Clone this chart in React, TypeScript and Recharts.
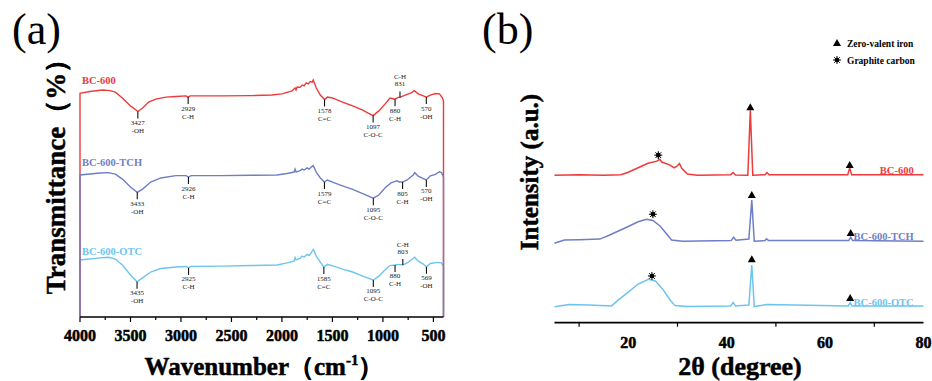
import { LineChart, Line, XAxis, YAxis, ReferenceDot } from "recharts";

const RED = "#ee3a3a";
const BLUE = "#6f7ec6";
const SKY = "#6cc4ef";
const SERIF = '"Liberation Serif", "Times New Roman", "DejaVu Serif", serif';

// (a) FTIR, [wavenumber cm-1, transmittance a.u.] - edges run down to the frame bottom like the original
const ftirBC600: [number, number][] = [
  [4000, 0], [4000, 76.1], [3900, 76.7], [3780, 77.2], [3700, 77.0], [3650, 76.5], [3580, 74.5], [3500, 71.8],
  [3427, 69.9], [3380, 71.1], [3320, 73.1], [3250, 74.1], [3150, 74.8], [3050, 75.0], [2950, 75.2], [2929, 74.8],
  [2910, 75.2], [2600, 75.2], [2300, 75.3], [2100, 75.5], [2000, 75.9], [1900, 76.9], [1870, 77.9], [1860, 77.2],
  [1850, 78.2], [1820, 78.1], [1800, 78.9], [1780, 78.6], [1760, 79.6], [1740, 79.3], [1720, 80.1], [1700, 79.9],
  [1690, 80.6], [1660, 77.9], [1620, 75.5], [1578, 74.0], [1550, 74.8], [1500, 74.5], [1400, 73.1], [1300, 71.8],
  [1200, 70.4], [1150, 69.4], [1097, 68.5], [1040, 70.1], [980, 72.4], [930, 74.5], [880, 74.1], [850, 74.7],
  [831, 74.7], [780, 75.5], [720, 76.2], [690, 77.0], [650, 75.9], [600, 75.2], [570, 74.8], [530, 75.5],
  [480, 76.0], [440, 75.9], [410, 74.5], [400, 73.5], [400, 0],
];
const ftirTCH: [number, number][] = [
  [4000, 0], [4000, 48.3], [3800, 49.0], [3720, 49.1], [3650, 48.6], [3580, 46.9], [3500, 44.2], [3433, 42.4],
  [3380, 43.5], [3300, 45.9], [3200, 47.3], [3050, 48.1], [2950, 48.1], [2926, 47.6], [2900, 48.1], [2600, 48.1],
  [2300, 48.2], [2050, 48.3], [1950, 48.8], [1880, 49.3], [1870, 50.3], [1860, 49.3], [1820, 49.8], [1800, 50.3],
  [1780, 50.0], [1750, 50.7], [1730, 50.3], [1710, 51.0], [1690, 51.5], [1660, 49.3], [1620, 47.3], [1579, 45.9],
  [1550, 46.6], [1480, 45.6], [1400, 44.6], [1300, 43.4], [1200, 42.0], [1095, 40.4], [1040, 41.5], [980, 43.9],
  [920, 45.6], [880, 46.1], [860, 46.3], [840, 45.9], [805, 45.9], [760, 46.6], [700, 48.3], [685, 49.1],
  [650, 47.9], [600, 47.1], [570, 46.6], [530, 48.0], [480, 48.5], [440, 49.4], [420, 49.1], [400, 47.6], [400, 0],
];
const ftirOTC: [number, number][] = [
  [4000, 0], [4000, 19.4], [3800, 20.1], [3720, 20.3], [3650, 19.7], [3580, 17.7], [3500, 14.3], [3435, 12.0],
  [3380, 13.3], [3300, 15.3], [3200, 16.5], [3050, 17.0], [2950, 17.2], [2925, 16.7], [2900, 17.2], [2600, 17.3],
  [2300, 17.5], [2050, 17.7], [1950, 18.4], [1880, 19.0], [1870, 20.2], [1860, 19.4], [1820, 19.9], [1800, 20.7],
  [1780, 20.4], [1750, 21.3], [1730, 20.9], [1710, 21.9], [1690, 23.0], [1660, 20.7], [1620, 18.7], [1585, 17.0],
  [1550, 17.9], [1480, 17.2], [1400, 16.3], [1300, 15.3], [1200, 13.9], [1095, 12.6], [1040, 13.9], [980, 16.0],
  [930, 17.5], [880, 17.7], [850, 17.9], [803, 17.7], [760, 18.4], [700, 19.9], [685, 20.3], [650, 19.0],
  [600, 18.0], [569, 17.1], [530, 18.2], [480, 18.5], [440, 18.5], [420, 18.4], [400, 17.1], [400, 0],
];
const ftirTicks = [4000, 3750, 3500, 3250, 3000, 2750, 2500, 2250, 2000, 1750, 1500, 1250, 1000, 750, 500];

type Note = { wn: number; t: number; num: string; group: string; above?: boolean };
const notesBC600: Note[] = [
  { wn: 3427, t: 69.9, num: "3427", group: "-OH" },
  { wn: 2929, t: 74.8, num: "2929", group: "C-H" },
  { wn: 1578, t: 74.0, num: "1578", group: "C=C" },
  { wn: 1097, t: 68.5, num: "1097", group: "C-O-C" },
  { wn: 880, t: 74.1, num: "880", group: "C-H" },
  { wn: 831, t: 74.7, num: "831", group: "C-H", above: true },
  { wn: 570, t: 74.8, num: "570", group: "-OH" },
];
const notesTCH: Note[] = [
  { wn: 3433, t: 42.4, num: "3433", group: "-OH" },
  { wn: 2926, t: 47.6, num: "2926", group: "C-H" },
  { wn: 1579, t: 45.9, num: "1579", group: "C=C" },
  { wn: 1095, t: 40.4, num: "1095", group: "C-O-C" },
  { wn: 805, t: 45.9, num: "805", group: "C-H" },
  { wn: 570, t: 46.6, num: "570", group: "-OH" },
];
const notesOTC: Note[] = [
  { wn: 3435, t: 12.0, num: "3435", group: "-OH" },
  { wn: 2925, t: 16.7, num: "2925", group: "C-H" },
  { wn: 1585, t: 17.0, num: "1585", group: "C=C" },
  { wn: 1095, t: 12.6, num: "1095", group: "C-O-C" },
  { wn: 880, t: 17.7, num: "880", group: "C-H" },
  { wn: 803, t: 17.7, num: "803", group: "C-H", above: true },
  { wn: 569, t: 17.1, num: "569", group: "-OH" },
];

// (b) XRD, [2theta, intensity a.u.]
const xrdBC600: [number, number][] = [
  [5, 49.2], [10, 49.4], [15, 49.2], [18.5, 49.4], [20, 50.2], [22, 51.7], [24, 53.2], [25.8, 53.9], [26.4, 54.5],
  [26.8, 53.6], [28.5, 52.6], [29.3, 51.7], [29.9, 52.2], [30.4, 53.1], [30.9, 51.4], [32, 49.6], [34, 49.2],
  [40.8, 49.4], [41.3, 50.1], [41.8, 49.3], [44.3, 49.2], [44.8, 70.9], [45.3, 49.2], [47.8, 49.4], [48.2, 50.1],
  [48.6, 49.4], [64.6, 49.4], [65.0, 51.6], [65.4, 49.4], [80, 49.4],
];
const xrdTCH: [number, number][] = [
  [5, 26.5], [7, 27.6], [10, 27.7], [14.2, 27.9], [16, 29.1], [18, 30.6], [20, 32.1], [22, 33.7], [23.7, 34.5],
  [25, 34.1], [26.5, 32.2], [28, 29.2], [28.8, 27.6], [31, 27.2], [40.9, 27.4], [41.4, 28.5], [41.9, 27.5],
  [44.5, 27.9], [45.1, 40.9], [45.6, 27.2], [47.8, 27.4], [48.1, 28.0], [48.5, 27.4], [64.8, 27.4], [65.2, 28.5],
  [65.6, 27.4], [80, 27.2],
];
const xrdOTC: [number, number][] = [
  [5, 5.3], [8, 6.1], [12, 5.9], [16.6, 5.6], [18, 7.6], [20, 10.2], [22, 12.9], [24.1, 14.5], [25.5, 13.9],
  [27, 11.2], [28.5, 7.6], [29.5, 5.7], [32, 5.4], [40.8, 5.6], [41.3, 6.7], [41.8, 5.6], [44.5, 5.9], [45.1, 19.2],
  [45.6, 5.4], [48.2, 6.1], [64.7, 5.6], [65.1, 6.7], [65.5, 5.6], [80, 5.6],
];
const xrdTicks = [10, 20, 30, 40, 50, 60, 70, 80];
const ironPeaks: [number, number][] = [[44.8, 71.9], [65.0, 52.6], [45.1, 42.6], [65.2, 29.9], [45.1, 21.2], [65.1, 8.2]];
const graphitePeaks: [number, number][] = [[26.1, 55.9], [25.0, 36.2], [24.8, 15.6]];

const toRows = (pts: [number, number][]) => pts.map(([x, y]) => ({ x, y }));

function Triangle({ cx, cy }: { cx: number; cy: number }) {
  return <polygon points={`${cx},${cy - 4} ${cx - 4},${cy + 3} ${cx + 4},${cy + 3}`} fill="#000" />;
}

function Asterisk({ cx, cy }: { cx: number; cy: number }) {
  const spokes = [0, 45, 90, 135];
  return (
    <g>
      {spokes.map((a) => {
        const r = (a * Math.PI) / 180;
        return (
          <line key={a} x1={cx - 4 * Math.cos(r)} y1={cy - 4 * Math.sin(r)} x2={cx + 4 * Math.cos(r)}
            y2={cy + 4 * Math.sin(r)} stroke="#000" strokeWidth={1} />
        );
      })}
      <circle cx={cx} cy={cy} r={2.3} fill="#000" />
    </g>
  );
}

// heavy bold serif, close to the thick Times of the figure
const heavy = { fontFamily: SERIF, fontWeight: "bold" as const, fill: "#000", stroke: "#000", strokeWidth: 0.5 };

function FtirTick(props: any) {
  const { x, y, payload } = props;
  const major = payload.value % 500 === 0;
  return (
    <g>
      <line x1={x} x2={x} y1={y} y2={y + (major ? 5 : 3)} stroke="#000" strokeWidth={1.2} />
      {major && (
        <text x={x} y={y + 24} textAnchor="middle" fontSize={16} {...heavy}>
          {payload.value}
        </text>
      )}
    </g>
  );
}

function XrdTick(props: any) {
  const { x, y, payload } = props;
  const labelled = payload.value % 20 === 0;
  return (
    <g>
      {!labelled && <line x1={x} x2={x} y1={y} y2={y + 4} stroke="#000" strokeWidth={1.2} />}
      {labelled && (
        <text x={x} y={y + 25} textAnchor="middle" fontSize={16} {...heavy}>
          {payload.value}
        </text>
      )}
    </g>
  );
}

const noteShape = (n: Note) => (p: any) => {
  const { cx, cy } = p;
  const txt = { textAnchor: "middle" as const, fontFamily: SERIF, fontSize: 7, fill: "#222" };
  if (n.above) {
    return (
      <g>
        <line x1={cx} x2={cx} y1={cy - 6} y2={cy} stroke="#111" strokeWidth={1.1} />
        <text x={cx} y={cy - 11} {...txt}>{n.num}</text>
        <text x={cx} y={cy - 18} {...txt}>{n.group}</text>
      </g>
    );
  }
  return (
    <g>
      <line x1={cx} x2={cx} y1={cy} y2={cy + 7} stroke="#111" strokeWidth={1.1} />
      <text x={cx} y={cy + 13.5} {...txt}>{n.num}</text>
      <text x={cx} y={cy + 21.5} {...txt}>{n.group}</text>
    </g>
  );
};

const nameShape = (name: string, color: string, anchor: "start" | "end") => (p: any) => (
  <text x={p.cx + (anchor === "start" ? 2 : 0)} y={p.cy + 3.5} textAnchor={anchor} fontFamily={SERIF}
    fontWeight="bold" fontSize={10.5} fill={color}>
    {name}
  </text>
);

function FtirPanel() {
  const series = [
    { name: "BC-600-OTC", data: ftirOTC, color: SKY, notes: notesOTC, labelT: 22.4 },
    { name: "BC-600", data: ftirBC600, color: RED, notes: notesBC600, labelT: 80.6 },
    { name: "BC-600-TCH", data: ftirTCH, color: BLUE, notes: notesTCH, labelT: 52.6 },
  ];
  return (
    <LineChart width={470} height={381} margin={{ top: 23, right: 26.5, left: 80, bottom: 34 }}>
      <XAxis dataKey="x" type="number" domain={[400, 4000]} reversed ticks={ftirTicks} interval={0}
        height={30} tickSize={0} tickMargin={0} tick={<FtirTick />} axisLine={{ stroke: "#000", strokeWidth: 1.5 }} />
      <XAxis xAxisId="top" orientation="top" type="number" domain={[400, 4000]} reversed height={0} tick={false}
        tickLine={false} axisLine={{ stroke: "#000", strokeWidth: 1.5 }} />
      <YAxis type="number" domain={[0, 100]} width={0} tick={false} tickLine={false}
        axisLine={{ stroke: "#000", strokeWidth: 1.5 }} />
      <YAxis yAxisId="r" orientation="right" type="number" domain={[0, 100]} width={0} tick={false} tickLine={false}
        axisLine={{ stroke: "#000", strokeWidth: 1.5 }} />
      {series.map((s) => (
        <Line key={s.name} data={toRows(s.data)} dataKey="y" stroke={s.color} strokeWidth={1.4} dot={false}
          isAnimationActive={false} />
      ))}
      {series.flatMap((s) =>
        s.notes.map((n) => (
          <ReferenceDot key={s.name + n.num} x={n.wn} y={n.t} r={0} ifOverflow="visible" shape={noteShape(n)} />
        ))
      )}
      {series.map((s) => (
        <ReferenceDot key={"lbl" + s.name} x={4000} y={s.labelT} r={0} ifOverflow="visible"
          shape={nameShape(s.name, s.color, "start")} />
      ))}
    </LineChart>
  );
}

function XrdPanel() {
  const series = [
    { name: "BC-600", data: xrdBC600, color: RED, labelI: 50.7 },
    { name: "BC-600-TCH", data: xrdTCH, color: BLUE, labelI: 28.9 },
    { name: "BC-600-OTC", data: xrdOTC, color: SKY, labelI: 6.9 },
  ];
  return (
    <LineChart width={462} height={381} margin={{ top: 23, right: 8.5, left: 84.5, bottom: 28.3 }}>
      <XAxis dataKey="x" type="number" domain={[5, 80]} ticks={xrdTicks} interval={0} height={30} tickSize={0}
        tickMargin={0} tick={<XrdTick />} axisLine={{ stroke: "#000", strokeWidth: 1.8 }} />
      <XAxis xAxisId="top" orientation="top" type="number" domain={[5, 80]} height={0} tick={false} tickLine={false}
        axisLine={{ stroke: "#000", strokeWidth: 1.8 }} />
      <YAxis type="number" domain={[0, 100]} width={0} tick={false} tickLine={false}
        axisLine={{ stroke: "#000", strokeWidth: 1.8 }} />
      <YAxis yAxisId="r" orientation="right" type="number" domain={[0, 100]} width={0} tick={false} tickLine={false}
        axisLine={{ stroke: "#000", strokeWidth: 1.8 }} />
      {series.map((s) => (
        <Line key={s.name} data={toRows(s.data)} dataKey="y" stroke={s.color} strokeWidth={1.5} dot={false}
          isAnimationActive={false} />
      ))}
      {ironPeaks.map(([x, y], i) => (
        <ReferenceDot key={"fe" + i} x={x} y={y} r={0} ifOverflow="visible"
          shape={(p: any) => <Triangle cx={p.cx} cy={p.cy} />} />
      ))}
      {graphitePeaks.map(([x, y], i) => (
        <ReferenceDot key={"c" + i} x={x} y={y} r={0} ifOverflow="visible"
          shape={(p: any) => <Asterisk cx={p.cx} cy={p.cy} />} />
      ))}
      {series.map((s) => (
        <ReferenceDot key={"lbl" + s.name} x={78} y={s.labelI} r={0} ifOverflow="visible"
          shape={nameShape(s.name, s.color, "end")} />
      ))}
    </LineChart>
  );
}

export default function App() {
  return (
    <div style={{ position: "fixed", left: 0, top: 0, width: 932, height: 381, background: "#fff", overflow: "hidden" }}>
      <div style={{ position: "absolute", left: 0, top: 0 }}>
        <FtirPanel />
      </div>
      <div style={{ position: "absolute", left: 470, top: 0 }}>
        <XrdPanel />
      </div>
      <svg width={932} height={381} style={{ position: "absolute", left: 0, top: 0, pointerEvents: "none" }}>
        <g fontFamily={SERIF} fill="#000">
          <text x={12} y={44} fontSize={44}>(a)</text>
          <text x={482} y={44} fontSize={44}>(b)</text>
          <text x={264} y={375} fontSize={25} textAnchor="middle" {...heavy}>
            Wavenumber（cm<tspan fontSize={15} dy={-10}>-1</tspan><tspan dy={10}>）</tspan>
          </text>
          <text x={740} y={375} fontSize={26} textAnchor="middle" {...heavy}>2θ (degree)</text>
          <text transform="translate(65,170) rotate(-90)" fontSize={27} textAnchor="middle" {...heavy}>
            Transmittance（%）
          </text>
          <text transform="translate(538,172) rotate(-90)" fontSize={25} textAnchor="middle" {...heavy}>
            Intensity (a.u.)
          </text>
          <Triangle cx={837} cy={43} />
          <text x={847} y={46.5} fontSize={9.5} fontWeight="bold">Zero-valent iron</text>
          <Asterisk cx={837} cy={60} />
          <text x={847} y={63.5} fontSize={9.5} fontWeight="bold">Graphite carbon</text>
        </g>
      </svg>
    </div>
  );
}
